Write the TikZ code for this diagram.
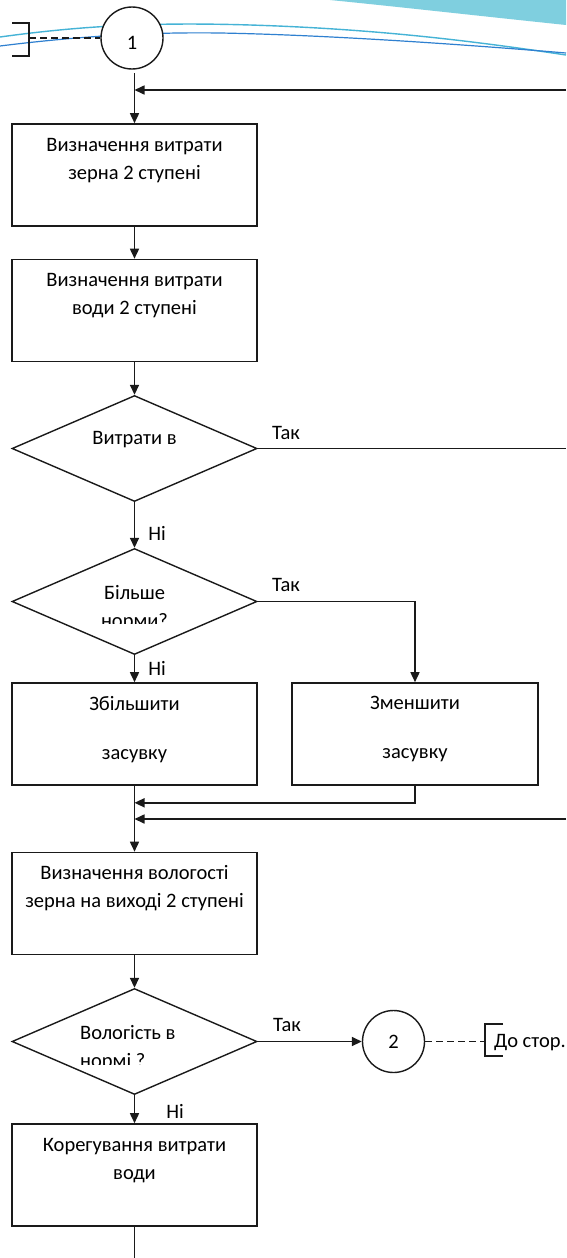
\documentclass[tikz,border=0pt]{standalone}
\usepackage{fontspec}
\setmainfont{Carlito}
\usetikzlibrary{shapes.geometric,arrows.meta,positioning,calc}
\definecolor{decocyan}{HTML}{7FCFDF}
\definecolor{decoblue}{HTML}{45B3D6}
\definecolor{decodeep}{HTML}{2F80D0}
\definecolor{ink}{HTML}{1A1A1A}
\tikzset{
  box/.style={draw=ink, line width=1.6pt, fill=white, minimum width=245pt, minimum height=102pt, inner sep=0pt},
  dia/.style={diamond, draw=ink, line width=1.4pt, fill=white, minimum width=245pt, minimum height=106pt, inner sep=0pt},
  circ/.style={circle, draw=ink, line width=1.4pt, fill=white, minimum size=62pt, inner sep=0pt, font=\fontsize{20.5}{24}\selectfont},
  txt/.style={align=center, font=\fontsize{20.5}{28}\selectfont, inner sep=0pt},
  lbl/.style={font=\fontsize{20.5}{24}\selectfont, inner sep=0pt},
  conn/.style={draw=ink, line width=1.6pt},
  arr/.style={conn, -{Triangle[length=10pt,width=9pt]}},
  dash3/.style={conn, dash pattern=on 7pt off 4pt}
}
\begin{document}
\begin{tikzpicture}[x=1pt,y=-1pt]
  \useasboundingbox[fill=white] (0,0) rectangle (566,1258);
  \fill[decocyan] (330,0) -- (566,0) -- (566,25) .. controls (480,16) and (400,7) .. (330,0) -- cycle;
  \draw[decoblue, line width=1.4pt] (0,37) .. controls (80,26) and (150,22) .. (250,25) .. controls (380,29) and (480,42) .. (566,55);
  \draw[decodeep, line width=1.2pt] (0,46) .. controls (80,36) and (150,32) .. (220,33) .. controls (330,35) and (470,45) .. (566,53);

  \node[circ] (c1) at (132,38) {};
  \node[lbl] (c1t) at ([yshift=-5pt]c1.center) {1};
  \coordinate (br1) at (29,38);
  \draw[conn] (12,23) -- (29,23) -- (29,56) -- (12,56);
  \draw[dash3] (br1) -- (c1.west);
  \coordinate (c1s) at (134.5,73);
  \coordinate (in1) at (566,90);
  \coordinate (in2) at (566,819);

  \node[box] (zerno) at (134.5,175) {};
  \node[txt] (zernot) at ([yshift=-37pt]zerno.north) {Визначення витрати\\зерна 2 ступені};
  \node[box] (vody) at (134.5,310.5) {};
  \node[txt] (vodyt) at ([yshift=-37pt]vody.north) {Визначення витрати\\води 2 ступені};

  \node[dia] (d1) at (134.5,448.5) {};
  \node[lbl] (d1t) at (134.5,440) {Витрати в};
  \node[dia] (d2) at (134.5,601.5) {};
  \begin{scope}
    \clip (0,0) rectangle (566,623);
    \node[txt] (d2t) at (134.5,608) {Більше\\норми?};
  \end{scope}

  \node[box] (zbil) at (134.5,734) {};
  \node[txt] (zbilt) at ([yshift=-47pt]zbil.north) {Збільшити\\[21pt]засувку};
  \node[box, minimum width=246pt] (zmen) at (415,734) {};
  \node[txt] (zment) at ([yshift=-47pt]zmen.north) {Зменшити\\[21pt]засувку};

  \node[box] (vol) at (134.5,903.5) {};
  \node[txt] (volt) at ([yshift=-36pt]vol.north) {Визначення вологості\\зерна на виході 2 ступені};

  \node[dia] (d3) at (134.5,1041.5) {};
  \begin{scope}
    \clip (0,0) rectangle (566,1064);
    \node[txt, align=left, anchor=west] (d3t) at (80,1048) {Вологість в\\нормі ?};
  \end{scope}
  \node[circ] (c2) at (393.5,1041.5) {2};
  \coordinate (br2) at (485,1041.5);
  \draw[conn] (503,1024) -- (485,1024) -- (485,1056) -- (503,1056);
  \node[lbl, anchor=west] (page) at (494,1043) {До стор.};

  \node[box] (korr) at (134.5,1175) {};
  \node[txt] (korrt) at ([yshift=-37pt]korr.north) {Корегування витрати\\води};
  \coordinate (bot) at (134.5,1258);

  \draw[arr] (c1s) -- (zerno.north);
  \draw[arr] (in1) -- (c1s |- in1);
  \draw[arr] (zerno.south) -- (vody.north);
  \draw[arr] (vody.south) -- (d1.north);
  \draw[conn] (d1.east) -- (d1.east -| in1);
  \node[lbl] (tak1) at (286,433) {Так};
  \draw[arr] (d1.south) -- (d2.north);
  \node[lbl] (ni1) at (157,533) {Ні};
  \draw[arr] (d2.east) -| (zmen.north);
  \node[lbl] (tak2) at (286,585) {Так};
  \draw[arr] (d2.south) -- (zbil.north);
  \node[lbl] (ni2) at (157,668) {Ні};
  \draw[arr] (zmen.south) |- ([yshift=-17pt]zbil.south);
  \draw[arr] (in2) -- (in2 -| zbil.south);
  \draw[arr] (zbil.south) -- (vol.north);
  \draw[arr] (vol.south) -- (d3.north);
  \draw[arr] (d3.east) -- (c2.west);
  \node[lbl] (tak3) at (287,1025) {Так};
  \draw[dash3] (c2.east) -- (br2);
  \draw[arr] (d3.south) -- (korr.north);
  \node[lbl] (ni3) at (175,1111) {Ні};
  \draw[conn] (korr.south) -- (bot);
\end{tikzpicture}
\end{document}
